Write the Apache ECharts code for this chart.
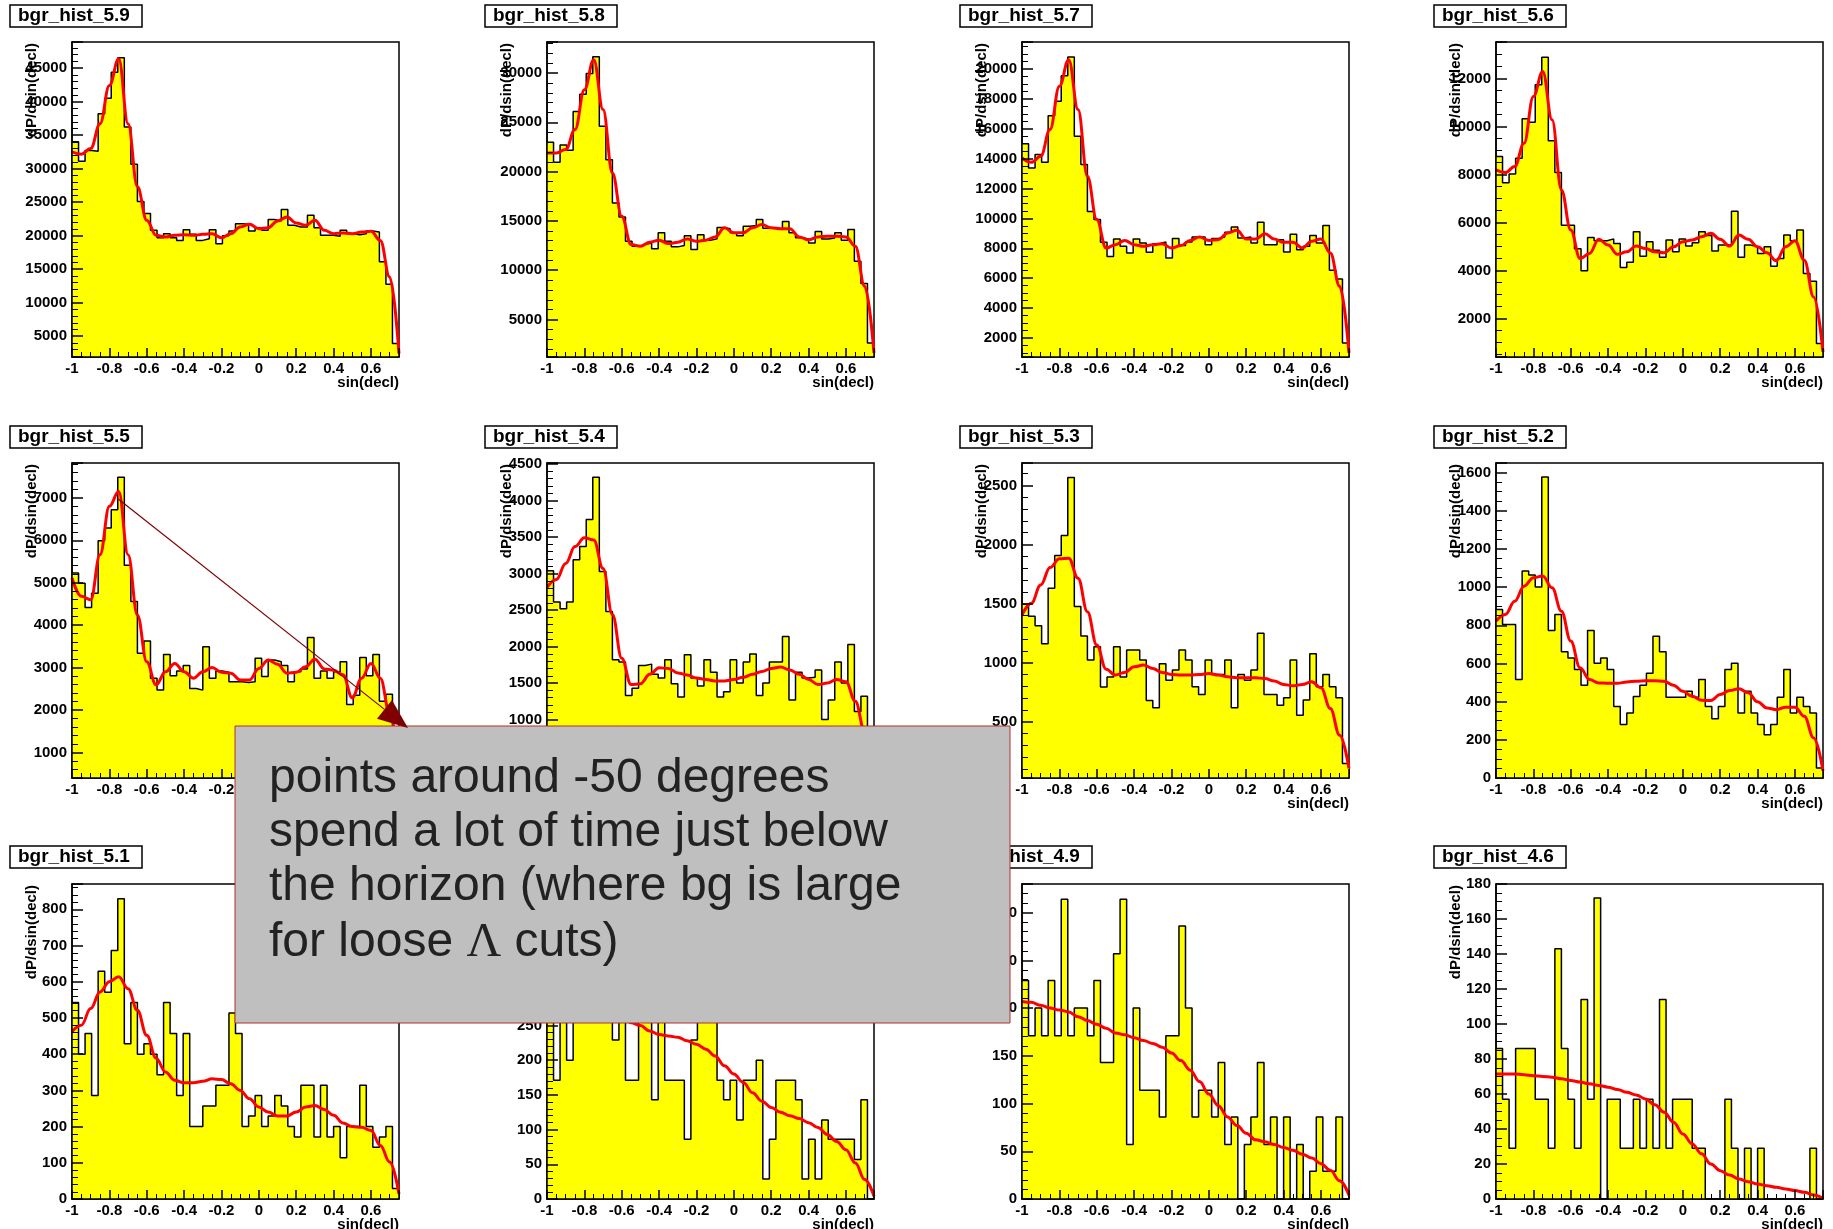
<!DOCTYPE html>
<html><head><meta charset="utf-8">
<script src="https://cdn.jsdelivr.net/npm/echarts@6/dist/echarts.min.js"></script>
<style>html,body{margin:0;padding:0;background:#fff}#c{width:1833px;height:1229px}</style>
</head><body><div id="c"></div>
<script>
// ---- data ----
const titles = ['bgr_hist_5.9','bgr_hist_5.8','bgr_hist_5.7','bgr_hist_5.6','bgr_hist_5.5','bgr_hist_5.4','bgr_hist_5.3','bgr_hist_5.2','bgr_hist_5.1','bgr_hist_5.0','bgr_hist_4.9','bgr_hist_4.6'];
const binLow = -1, binWidth = 0.035; // 50 bins, -1 .. 0.75
const h59 = [34000,31100,32700,32600,38200,40500,44400,46550,36200,30650,25100,23300,20800,19700,20300,19700,19300,20900,20200,19300,19550,20900,18800,20000,20700,21800,21700,20700,21200,20800,22400,22200,23900,21550,21300,21300,23050,21200,20050,20050,19900,20800,20300,20150,20300,20700,20550,16100,12750,3900];
const h58 = [22980,20950,22700,22170,26100,27850,29950,31650,24600,21200,16830,15400,12950,12440,12600,12770,12170,13800,12950,12370,12500,13500,12100,13600,13050,13180,14330,14200,13800,13500,14460,14530,15140,14260,14260,14130,14940,13800,13300,13180,12770,13920,13180,13280,13800,13050,14130,10900,8650,2630];
const h57 = [15000,13370,14270,13750,16870,17830,19550,20800,15490,13600,10470,9920,8400,7460,8620,8130,7690,8620,8360,7730,8310,8420,7350,8650,8180,8420,8760,8760,8240,8650,8760,9070,9430,8690,8760,8360,9740,8240,8240,8580,7750,8940,7910,8130,8850,8360,9520,6530,5950,1670];
const h56 = [8750,7660,8020,8680,10320,10180,11740,12890,9410,8080,5890,5890,4910,3990,5380,5240,5240,5320,5130,4130,4350,5620,4600,5200,4850,4550,5270,4780,5320,5020,5160,5620,5460,4820,5060,5060,6470,4550,5060,4990,4710,4990,4180,4500,5480,5240,5690,3880,3560,960];
const h55 = [5226,4990,4415,4750,5990,6290,6720,7485,5410,4560,3340,3630,2750,2470,3310,2810,2920,3050,2510,2470,3490,2750,2920,2890,2670,2670,2650,2670,3220,2790,3180,3140,3050,2670,2900,2970,3710,2750,2920,2750,2900,3140,2130,2350,3240,2810,3310,2210,2370,800];
const h54 = [3040,2610,2520,2610,3190,3370,3740,4320,3030,2480,1820,1790,1330,1430,1740,1760,1620,1570,1820,1490,1310,1890,1570,1460,1820,1650,1310,1380,1820,1500,1790,1900,1330,1500,1790,1790,2140,1270,1650,1570,1580,1680,1000,1270,1790,1500,2030,1110,1320,500];
const h53 = [1494,1393,1314,1161,1630,1907,2076,2568,1475,1226,1023,1136,794,879,1136,879,1107,1107,1023,681,619,992,853,938,1107,1023,797,732,1023,901,901,1023,619,901,853,938,1249,732,732,641,703,1023,556,684,1076,797,901,797,703,147];
const h52 = [883,804,804,516,1084,1063,1000,1577,773,857,661,629,568,486,773,601,629,568,374,280,341,427,486,549,743,661,423,423,423,454,423,516,374,311,374,568,601,341,454,341,280,227,280,423,568,341,423,374,341,52];
const h51 = [543,400,457,286,629,571,686,829,429,543,400,429,400,343,543,457,286,457,200,200,257,257,314,314,514,457,200,229,286,200,229,286,257,200,171,314,314,171,314,171,200,114,200,200,314,200,143,171,200,29];
const h50 = [314,171,343,200,286,371,314,400,343,286,229,257,171,171,286,257,143,257,171,171,171,86,229,286,257,314,171,143,171,114,171,171,200,29,86,171,171,171,143,29,86,29,114,86,86,86,86,57,143,0];
const h49 = [229,171,200,171,229,171,314,171,200,200,171,229,143,143,257,314,57,200,114,114,114,86,171,171,286,200,86,114,114,86,143,57,86,0,57,86,143,57,86,0,86,0,57,0,29,86,29,29,86,0];
const h46 = [86,57,29,86,86,86,57,57,29,143,86,57,29,114,57,172,0,57,57,29,29,57,29,57,29,114,29,57,57,57,29,29,0,0,0,57,29,0,29,0,29,0,0,0,0,0,0,0,29,0];

const fitX = [-1,-0.95,-0.9,-0.85,-0.8,-0.75,-0.7,-0.65,-0.6,-0.55,-0.5,-0.45,-0.4,-0.35,-0.3,-0.25,-0.2,-0.15,-0.1,-0.05,0,0.05,0.1,0.15,0.2,0.25,0.3,0.35,0.4,0.45,0.5,0.55,0.6,0.65,0.7,0.75];
const f59 = [32500,32150,33000,36700,42400,46400,36700,27300,22300,20050,19800,20050,20150,20050,20200,20300,19700,20300,21300,21700,21050,21200,22200,22800,21900,21550,22300,20800,20300,20400,20300,20550,20650,19300,13850,2400];
const f58 = [21900,21900,22240,24270,28300,31360,26300,19870,15480,12600,12440,12840,13050,12700,12840,13180,12940,13050,13380,14300,13800,13800,14300,14630,14300,14200,14200,13380,13100,13380,13450,13450,13380,12440,8380,1620];
const f57 = [14040,13750,14150,15940,18840,20620,17280,12820,9920,8020,8240,8530,8240,8130,8240,8310,8020,8180,8530,8760,8530,8580,9020,9200,8620,8620,8980,8620,8400,8400,8020,8470,8620,7690,5460,1000];
const f56 = [8190,8080,8330,9300,11250,12290,10280,7360,5690,4500,4710,5300,5060,4680,4780,5020,4920,4780,4740,4990,5200,5270,5410,5550,5300,5020,5480,5300,4990,4740,4410,4990,5240,4430,2900,610];
const f55 = [5110,4680,4600,5660,6800,7150,5660,4240,3140,2590,2900,3100,2900,2750,2900,3000,2890,2870,2710,2710,2980,3180,3080,2870,2890,3020,3200,2970,2940,2830,2290,2750,3100,2750,1920,700];
const f54 = [2810,2920,3140,3370,3490,3460,3070,2440,1840,1480,1490,1620,1710,1700,1640,1610,1570,1550,1530,1530,1550,1580,1620,1660,1700,1720,1680,1620,1550,1480,1500,1550,1520,1250,840,250];
const f53 = [1404,1503,1658,1805,1879,1884,1715,1432,1150,946,896,918,966,980,952,918,901,896,896,901,910,896,881,873,873,873,867,845,816,805,816,839,788,613,387,105];
const f52 = [822,857,926,1005,1049,1058,996,874,717,577,516,498,496,496,503,507,510,510,507,486,454,428,407,406,437,458,468,446,399,367,358,371,371,323,210,38];
const f51 = [462,480,526,572,600,614,581,521,452,389,351,328,321,321,325,332,330,318,300,277,254,240,229,229,240,254,258,247,231,210,200,198,189,148,102,14];
const f50 = [330,325,320,315,305,298,290,280,268,254,250,242,237,235,233,228,223,216,206,192,180,168,153,141,132,125,120,116,110,103,93,83,71,52,28,4];
const f49 = [207,206,203,200,198,196,191,187,183,179,174,172,169,166,163,159,153,145,135,123,110,98,86,77,69,62,60,57,54,51,47,43,37,30,19,4];
const f46 = [71.5,71.5,71.5,71,70.5,70,69.6,68.7,67.7,66.8,65.8,64.9,63.9,62.6,61,59.5,57.2,53.8,49.6,43.9,37.2,31.5,25.8,20,16.2,13.7,11.4,9.9,8.6,7.6,6.7,5.7,4.8,3.8,2.3,0.4];

const yMin  = [1900,1200,730,400,400,200,25,0,0,0,0,0];
const yMax  = [48900,33150,21800,13520,7820,4515,2690,1650,870,454,330,180];
const yStep = [5000,5000,2000,2000,1000,500,500,200,100,50,50,20];
const xTickStep = 0.2;

const noteLines = ['points around -50 degrees','spend a lot of time just below','the horizon (where bg is large','for loose {l|\u039B} cuts)'];

// ---- layout ----
const hists = [h59,h58,h57,h56,h55,h54,h53,h52,h51,h50,h49,h46];
const fits  = [f59,f58,f57,f56,f55,f54,f53,f52,f51,f50,f49,f46];
const colLeft = [72,547,1022,1496], rowTop = [42,463,884], titleTop = [5,426,846];
const plotW = 327, plotH = 315;
const FONT = '"Liberation Sans", Arial, Helvetica, sans-serif';

const grids=[], xAxes=[], yAxes=[], series=[], graphics=[];
for (let i=0;i<12;i++){
  const col=i%4, row=Math.floor(i/4);
  const L=colLeft[col], T=rowTop[row];
  grids.push({left:L, top:T, width:plotW, height:plotH, show:true, borderColor:'#000', borderWidth:1.5, backgroundColor:'#fff', containLabel:false, outerBoundsMode:'none'});
  xAxes.push({type:'value', gridIndex:i, min:-1, max:0.75, interval:xTickStep, z:10,
    axisLine:{show:true, onZero:false, lineStyle:{color:'#000', width:1.5}},
    axisTick:{show:true, inside:true, length:9, lineStyle:{color:'#000', width:1.5}},
    minorTick:{show:true, splitNumber:4, length:5, lineStyle:{color:'#000', width:1}},
    splitLine:{show:false},
    axisLabel:{show:true, margin:4, color:'#000', fontWeight:'bold', fontSize:15, fontFamily:FONT,
      formatter:function(v){ if (Math.abs(v/xTickStep - Math.round(v/xTickStep))>1e-6) return ''; return String(Math.round(v*10)/10); }}
  });
  const step=yStep[i];
  const lead = String(step)[0];
  yAxes.push({type:'value', gridIndex:i, min:yMin[i], max:yMax[i], splitNumber:Math.round((yMax[i]-yMin[i])/step), z:10,
    axisLine:{show:true, onZero:false, lineStyle:{color:'#000', width:1.5}},
    axisTick:{show:true, inside:true, length:11, lineStyle:{color:'#000', width:1.5}},
    minorTick:{show:true, splitNumber: lead==='2'?4:5, length:6, lineStyle:{color:'#000', width:1}},
    splitLine:{show:false},
    axisLabel:{show:true, margin:5, color:'#000', fontWeight:'bold', fontSize:15, fontFamily:FONT, showMinLabel:true, showMaxLabel:true,
      formatter:function(v){ if (Math.abs(v/step - Math.round(v/step))>1e-6) return ''; return String(Math.round(v)); }}
  });
  const h=hists[i];
  const hd=h.map((v,k)=>[binLow+k*binWidth, v]);
  hd.push([binLow+h.length*binWidth, h[h.length-1]]);
  series.push({type:'line', xAxisIndex:i, yAxisIndex:i, data:hd, step:'end', symbol:'none', silent:true,
    lineStyle:{color:'#000', width:1.5}, areaStyle:{color:'#ffff00', opacity:1, origin:'start'}, z:2});
  series.push({type:'line', xAxisIndex:i, yAxisIndex:i, data:fitX.map((x,k)=>[x, fits[i][k]]), smooth:0.4, smoothMonotone:'x',
    symbol:'none', silent:true, lineStyle:{color:'#ff0000', width:3}, z:3});
  // title box
  graphics.push({type:'rect', z:20, shape:{x:L-62, y:titleTop[row], width:132, height:22}, style:{fill:'#fff', stroke:'#000', lineWidth:1.5}});
  graphics.push({type:'text', z:21, x:L-54, y:titleTop[row]+11, style:{text:titles[i], fill:'#000', fontSize:19, fontWeight:'bold', fontFamily:FONT, align:'left', verticalAlign:'middle'}});
  // y axis name
  graphics.push({type:'text', z:21, x:L-40, y:T+1, rotation:Math.PI/2, style:{text:'dP/dsin(decl)', fill:'#000', fontSize:15, fontWeight:'bold', fontFamily:FONT, align:'right', verticalAlign:'middle'}});
  // x axis name
  graphics.push({type:'text', z:21, x:L+plotW, y:T+plotH+26, style:{text:'sin(decl)', fill:'#000', fontSize:15, fontWeight:'bold', fontFamily:FONT, align:'right', verticalAlign:'middle'}});
}
// annotation
graphics.push({type:'rect', z:100, shape:{x:235, y:726, width:775, height:297}, style:{fill:'#bfbfbf', stroke:'#b03030', lineWidth:1}});
const noteY=[779,833,887,943];
noteLines.forEach((t,k)=>{
  graphics.push({type:'text', z:101, x:269, y:noteY[k], style:{text:t, fill:'#222', fontSize:48, fontFamily:'"Liberation Sans", Arial, sans-serif', align:'left', verticalAlign:'middle',
    rich:{l:{fontFamily:'"Liberation Serif", "DejaVu Serif", serif', fontSize:48, fill:'#222'}}}});
});
graphics.push({type:'line', z:102, shape:{x1:117, y1:498, x2:384.5, y2:709.4}, style:{stroke:'#800000', lineWidth:1.2}});
graphics.push({type:'polygon', z:102, shape:{points:[[408,728],[377,718.8],[391.9,700]]}, style:{fill:'#800000'}});

const chart = echarts.init(document.getElementById('c'), null, {renderer:'canvas'});
chart.setOption({animation:false, backgroundColor:'#fff', grid:grids, xAxis:xAxes, yAxis:yAxes, series:series, graphic:{elements:graphics}});
</script></body></html>
